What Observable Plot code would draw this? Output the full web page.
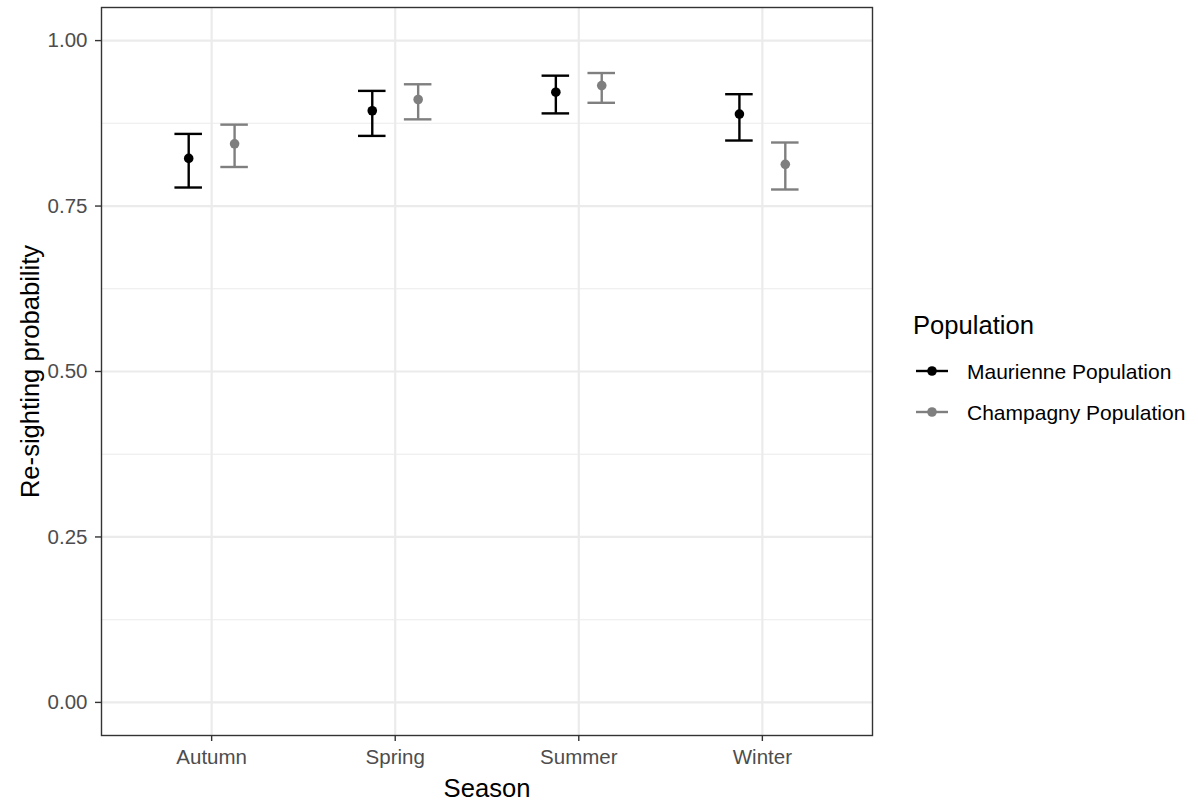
<!DOCTYPE html>
<html><head><meta charset="utf-8">
<script src="https://cdn.jsdelivr.net/npm/d3@7"></script>
<script src="https://cdn.jsdelivr.net/npm/@observablehq/plot@0.6"></script>
<style>
body{margin:0;background:#fff;font-family:"Liberation Sans",Arial,sans-serif;}
#wrap{position:relative;width:1198px;height:805px;}
#legend{position:absolute;left:0;top:0;pointer-events:none;}
</style></head><body><div id="wrap"></div>
<script>
const seasons = ["Autumn", "Spring", "Summer", "Winter"];
const populations = ["Maurienne Population", "Champagny Population"];
const popColors = ["#000000", "#7f7f7f"];
const maurienneEst  = [0.822, 0.894, 0.922, 0.889];
const maurienneLow  = [0.778, 0.856, 0.890, 0.849];
const maurienneHigh = [0.859, 0.924, 0.947, 0.919];
const champagnyEst  = [0.844, 0.911, 0.932, 0.813];
const champagnyLow  = [0.809, 0.881, 0.906, 0.775];
const champagnyHigh = [0.873, 0.934, 0.951, 0.846];
const yTicks = [0, 0.25, 0.5, 0.75, 1];
const yMinor = [0.125, 0.375, 0.625, 0.875];
const xLabel = "Season";
const yLabel = "Re-sighting probability";
const legendTitle = "Population";

const dodge = 0.25, capWidth = 0.15;
const series = [
  {est: maurienneEst, low: maurienneLow, high: maurienneHigh},
  {est: champagnyEst, low: champagnyLow, high: champagnyHigh}
];
const rows = [];
seasons.forEach((s, i) => {
  populations.forEach((p, pi) => {
    rows.push({season: s, pop: p, x: i + (pi - 0.5) * dodge,
      est: series[pi].est[i], low: series[pi].low[i], high: series[pi].high[i]});
  });
});
const seasonIdx = seasons.map((s, i) => i);
const font = '"Liberation Sans", Arial, sans-serif';

const chart = Plot.plot({
  width: 1198, height: 805,
  marginLeft: 101, marginRight: 326, marginTop: 7, marginBottom: 70,
  style: {fontFamily: font, background: "white"},
  x: {domain: [-0.6, seasons.length - 0.4], axis: null},
  y: {domain: [-0.05, 1.05], axis: null},
  color: {domain: populations, range: popColors},
  marks: [
    Plot.gridY(yMinor, {stroke: "#ebebeb", strokeOpacity: 1, strokeWidth: 1.1}),
    Plot.gridY(yTicks, {stroke: "#ebebeb", strokeOpacity: 1, strokeWidth: 2.2}),
    Plot.gridX(seasonIdx, {stroke: "#ebebeb", strokeOpacity: 1, strokeWidth: 2.2}),
    Plot.axisY(yTicks, {tickFormat: d3.format(".2f"), tickSize: 6, tickPadding: 8, fontSize: 20.5,
      fill: "#4d4d4d", stroke: "#333333", strokeWidth: 1.4, label: null}),
    Plot.axisX(seasonIdx, {tickFormat: i => seasons[i], tickSize: 6, tickPadding: 8, fontSize: 20.5,
      fill: "#4d4d4d", stroke: "#333333", strokeWidth: 1.4, label: null}),
    Plot.ruleX(rows, {x: "x", y1: "low", y2: "high", stroke: "pop", strokeWidth: 2.4}),
    Plot.ruleY(rows, {y: "high", x1: d => d.x - capWidth / 2, x2: d => d.x + capWidth / 2, stroke: "pop", strokeWidth: 2.4}),
    Plot.ruleY(rows, {y: "low", x1: d => d.x - capWidth / 2, x2: d => d.x + capWidth / 2, stroke: "pop", strokeWidth: 2.4}),
    Plot.dot(rows, {x: "x", y: "est", fill: "pop", r: 4.8}),
    Plot.frame({stroke: "#333333", strokeWidth: 1.4}),
    Plot.text([xLabel], {frameAnchor: "bottom", dy: 61, fontSize: 25.6, fill: "black"}),
    Plot.text([yLabel], {frameAnchor: "left", textAnchor: "middle", dx: -71, rotate: -90, fontSize: 25.6, fill: "black"})
  ]
});
const wrap = document.getElementById("wrap");
wrap.appendChild(chart);

// legend
const lg = d3.select(wrap).append("svg").attr("id", "legend")
  .attr("width", 1198).attr("height", 805)
  .style("font-family", font);
lg.append("text").attr("x", 913).attr("y", 334).attr("font-size", 25.6).attr("fill", "black").text(legendTitle);
populations.forEach((p, i) => {
  const cy = 371 + i * 41;
  const g = lg.append("g");
  g.append("line").attr("x1", 916).attr("x2", 948).attr("y1", cy).attr("y2", cy)
    .attr("stroke", popColors[i]).attr("stroke-width", 2.4);
  g.append("circle").attr("cx", 932).attr("cy", cy).attr("r", 4.8).attr("fill", popColors[i]);
  g.append("text").attr("x", 967).attr("y", cy).attr("dy", "0.36em").attr("font-size", 21)
    .attr("fill", "black").text(p);
});
</script></body></html>
